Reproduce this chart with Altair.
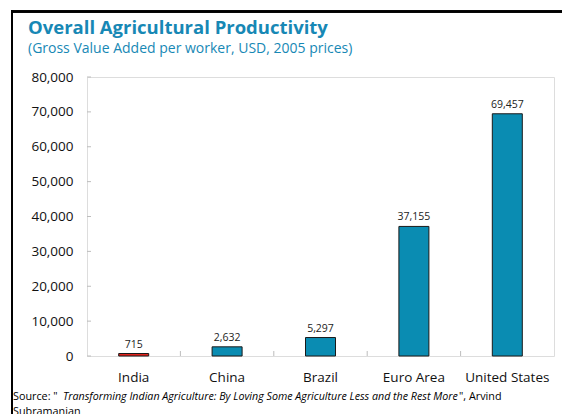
import altair as alt
import pandas as pd

countries = ["India", "China", "Brazil", "Euro Area", "United States"]
values = [715, 2632, 5297, 37155, 69457]
y_ticks = [0, 10000, 20000, 30000, 40000, 50000, 60000, 70000, 80000]

title = "Overall Agricultural Productivity"
subtitle = "(Gross Value Added per worker, USD, 2005 prices)"
src_a = "Source: \""
src_b = "Transforming Indian Agriculture: By Loving Some Agriculture Less and the Rest More"
src_c = "\", Arvind"
src_d = "Subramanian"

FONT = "Open Sans"
TEAL = "#0A8CB2"
RED = "#E3231C"
W, H = 467, 279
L, T = 87, 77

df = pd.DataFrame({"country": countries, "value": values})
tick_df = pd.DataFrame({"t": y_ticks})
bnd_df = pd.DataFrame({"country": countries[1:]})

xscale = alt.Scale(domain=countries, paddingInner=0, paddingOuter=0)
xaxis = alt.Axis(title=None, labelAngle=0, labelFont=FONT, labelFontSize=13.5,
                 labelColor="#111111", ticks=False, domain=False, labelPadding=14)
yscale = alt.Scale(domain=[0, 80000], nice=False)
yaxis = alt.Axis(title=None, values=y_ticks, labelExpr="format(datum.value, ',')",
                 grid=False, ticks=False,
                 domain=False, labelFont=FONT, labelFontSize=13.5, labelOverlap=False,
                 labelColor="#111111", labelPadding=14)

bars = alt.Chart(df).mark_bar(size=30, stroke="#1a1a1a", strokeWidth=1).encode(
    x=alt.X("country:N", sort=countries, scale=xscale, axis=xaxis),
    y=alt.Y("value:Q", scale=yscale, axis=yaxis),
    color=alt.condition(alt.datum.country == "India", alt.value(RED), alt.value(TEAL)),
)

labels = alt.Chart(df).mark_text(font=FONT, fontSize=10.5, dy=-9, color="#222222").encode(
    x=alt.X("country:N", sort=countries, scale=xscale, axis=xaxis),
    y=alt.Y("value:Q", scale=yscale, axis=yaxis),
    text=alt.Text("value:Q", format=","),
)

yticks = alt.Chart(tick_df).mark_rule(color="#bdbdbd", strokeWidth=1).encode(
    y=alt.Y("t:Q", scale=yscale, axis=yaxis), x=alt.value(0), x2=alt.value(4))

xticks = alt.Chart(bnd_df).mark_rule(color="#bdbdbd", strokeWidth=1).encode(
    x=alt.X("country:N", sort=countries, bandPosition=0, scale=xscale, axis=xaxis),
    y=alt.value(H), y2=alt.value(H - 5))

def txt(s, x, y, size, color="#000000", weight="normal", style="normal", align="left"):
    return alt.Chart(pd.DataFrame({"s": [s]})).mark_text(
        font=FONT, fontSize=size, fontWeight=weight, fontStyle=style, color=color,
        align=align, baseline="alphabetic").encode(
        text="s:N", x=alt.value(x - L), y=alt.value(y - T))

texts = [
    txt(title, 28, 34, 18.5, color="#1788B5", weight="bold"),
    txt(subtitle, 28, 53, 14, color="#1788B5"),
    txt(src_a, 13, 399.5, 10.8),
    txt(src_b, 63, 399.5, 10.7, style="italic"),
    txt(src_c, 459, 399.5, 10.8),
    txt(src_d, 13, 414.5, 10.8),
]

top_border = alt.Chart(df).mark_rule(color="black", strokeWidth=2).encode(
    x=alt.value(11 - L), x2=alt.value(562 - L), y=alt.value(11.5 - T))
left_border = alt.Chart(df).mark_rule(color="black", strokeWidth=2).encode(
    x=alt.value(12 - L), y=alt.value(10.5 - T), y2=alt.value(414 - T))

chart = alt.layer(bars, labels, yticks, xticks, *texts, top_border, left_border).properties(
    width=W, height=H,
    padding={"left": L, "top": T, "right": 562 - L - W, "bottom": 414 - T - H},
    autosize=alt.AutoSizeParams(type="none"),
).configure_view(stroke="#c6c6c6", strokeWidth=1).configure(background="white")

chart.save("out.html", embed_options={"renderer": "svg", "actions": False})
